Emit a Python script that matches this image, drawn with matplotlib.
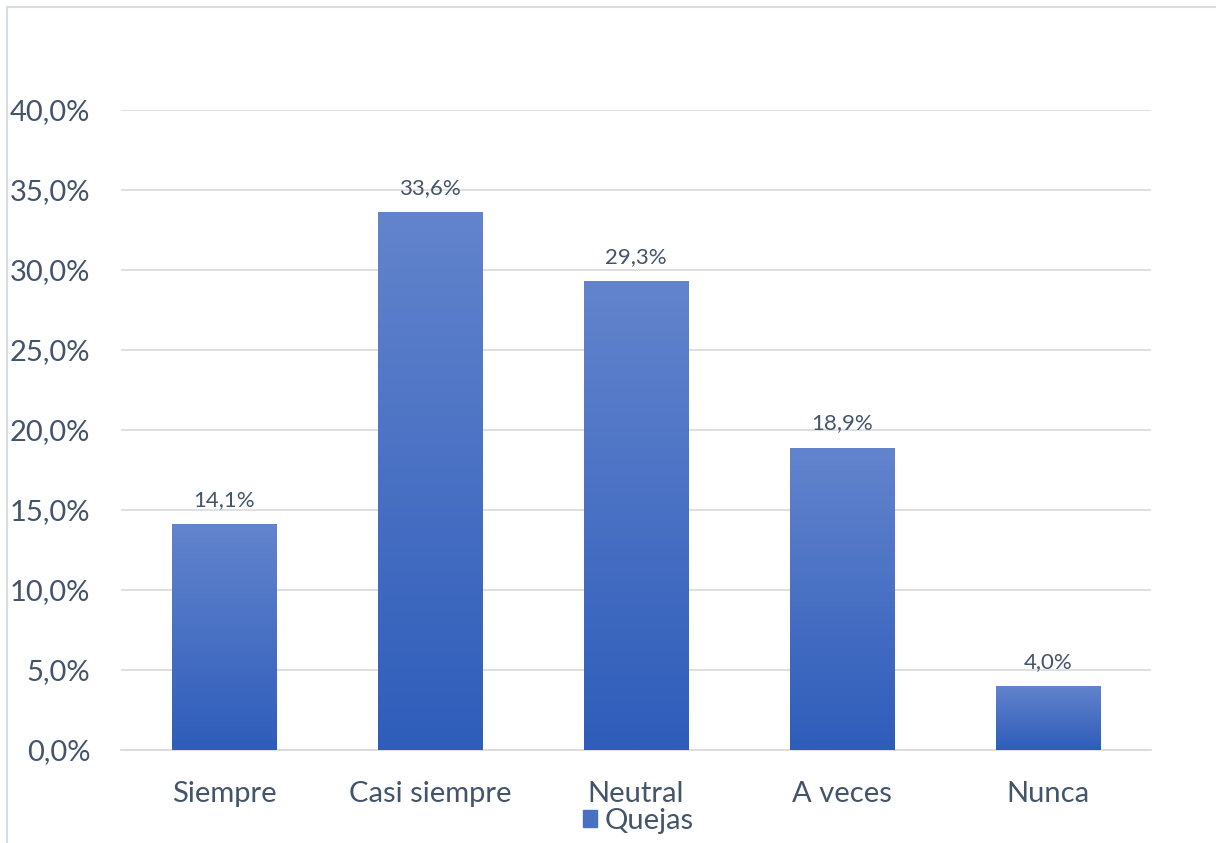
import matplotlib.pyplot as plt
from matplotlib.patches import Rectangle
from matplotlib.ticker import FuncFormatter
import numpy as np

categories = ["Siempre", "Casi siempre", "Neutral", "A veces", "Nunca"]
values = [14.1, 33.6, 29.3, 18.9, 4.0]
series_name = "Quejas"

text_color = "#44546A"
top_col = np.array([99, 132, 205]) / 255
bot_col = np.array([46, 93, 186]) / 255

plt.rcParams['font.family'] = ['Lato', 'DejaVu Sans']

fig = plt.figure(figsize=(12.16, 8.43), dpi=100)
ax = fig.add_axes([121/1216, 1 - 750/843, 1030/1216, 640/843])

x = np.arange(len(categories))
bars = ax.bar(x, values, width=0.505, color=bot_col, zorder=2)

# vertical gradient on every bar
grad = np.linspace(0, 1, 256)[:, None, None]
img = top_col * (1 - grad) + bot_col * grad
for b in bars:
    x0, w, h = b.get_x(), b.get_width(), b.get_height()
    im = ax.imshow(img, extent=[x0, x0 + w, 0, h], aspect='auto',
                   origin='upper', zorder=3, interpolation='bilinear')
    im.set_clip_path(b)
    ax.text(x0 + w / 2, h + 0.9, f"{h:.1f}%".replace('.', ','),
            ha='center', va='bottom', fontsize=16, color=text_color, zorder=4)

ax.set_xlim(-0.5, len(categories) - 0.5)
ax.set_ylim(0, 40)
ax.set_yticks(np.arange(0, 41, 5))
ax.yaxis.set_major_formatter(FuncFormatter(lambda v, p: f"{v:.1f}%".replace('.', ',')))
ax.set_xticks(x)
ax.set_xticklabels(categories)
ax.tick_params(axis='both', length=0, labelsize=21, colors=text_color)
ax.tick_params(axis='y', pad=22)
ax.tick_params(axis='x', pad=22)
ax.grid(axis='y', color='#D9D9D9', linewidth=1.2, zorder=0)
for s in ['top', 'right', 'left']:
    ax.spines[s].set_visible(False)
ax.spines['bottom'].set_color('#D9D9D9')
ax.spines['bottom'].set_linewidth(1.2)

handle = Rectangle((0, 0), 1, 1, color=(top_col + bot_col) / 2)
fig.legend([handle], [series_name], loc='center', bbox_to_anchor=(638/1216, 1 - 821/843),
           frameon=False, fontsize=21, labelcolor=text_color, handlelength=0.5,
           handleheight=0.5, handletextpad=0.25)

# chart area border
fig.patches.append(Rectangle((7/1216, -0.05), 1.1, 1 - 7/843 + 0.05,
                             transform=fig.transFigure, fill=False,
                             edgecolor='#D9DEE4', linewidth=1.5))

fig.savefig("out.png", dpi=100)
